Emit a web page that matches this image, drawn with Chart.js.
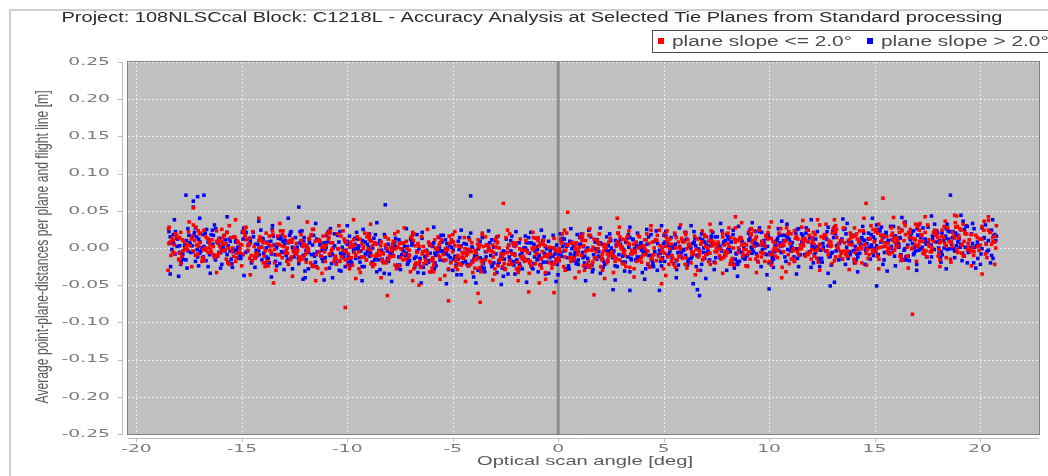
<!DOCTYPE html>
<html>
<head>
<meta charset="utf-8">
<script src="https://cdn.jsdelivr.net/npm/chart.js@4.4.0/dist/chart.umd.min.js"></script>
<style>
  html, body { margin: 0; padding: 0; background: #fff; }
  canvas { display: block; }
</style>
</head>
<body>
<canvas id="scanChart" width="1048" height="476"></canvas>
<script>
const chartTitle = "Project: 108NLSCcal Block: C1218L - Accuracy Analysis at Selected Tie Planes from Standard processing";
const xAxisTitle = "Optical scan angle [deg]";
const yAxisTitle = "Average point-plane-distances per plane and flight line [m]";
const seriesLabels = ["plane slope <= 2.0°", "plane slope > 2.0°"];
const seriesColors = ["#ff0000", "#0000ff"];
const xTicks = [-20, -15, -10, -5, 0, 5, 10, 15, 20];
const yTicks = [0.25, 0.2, 0.15, 0.1, 0.05, 0, -0.05, -0.1, -0.15, -0.2, -0.25];
const yTickLabels = ["0.25", "0.20", "0.15", "0.10", "0.05", "0.00", "-0.05", "-0.10", "-0.15", "-0.20", "-0.25"];

// [scan angle in deg, mean distance in mm]
const lowSlope = [
  [-18.4,8],[-18.2,-7],[-17.9,21],[-17.7,-2],[-18.3,13],[-18.0,-15],[-17.6,5],[-18.1,17],[-17.8,-4],[-18.45,28],[-17.85,-11],[-18.25,10],[-17.65,1],[-17.95,14],[-18.5,-30],[-17.3,54],
  [-16.7,-3],[-17.35,16],[-17.05,2],[-16.8,24],[-17.2,-10],[-16.55,9],[-16.9,-18],[-17.4,12],[-17.0,19],[-16.75,0],[-17.15,4],[-16.6,-6],[-17.3,31],[-16.85,-13],
  [-16.1,12],[-15.65,0],[-16.3,-13],[-15.95,25],[-15.75,6],[-16.45,-6],[-15.85,17],[-15.6,-22],[-16.2,9],[-16.05,2],[-15.7,21],[-16.35,-9],[-15.9,14],[-15.8,-3],
  [-15.4,-11],[-15.2,9],[-14.9,21],[-14.7,-3],[-15.3,-18],[-15.0,4],[-14.6,13],[-15.1,-6],[-14.8,28],[-15.45,0],[-14.85,16],[-15.25,-13],[-14.65,6],[-14.95,-8],
  [-13.7,16],[-14.35,-8],[-14.05,1],[-13.8,-18],[-14.2,10],[-13.55,23],[-13.9,-4],[-14.4,-12],[-14.0,7],[-13.75,-24],[-14.15,13],[-13.6,3],[-14.3,-7],[-13.85,20],[-13.5,-47],[-14.2,40],
  [-13.1,3],[-12.65,-12],[-13.3,16],[-12.95,-7],[-12.75,8],[-13.45,-20],[-12.85,0],[-12.6,12],[-13.2,-9],[-13.05,23],[-12.7,-16],[-13.35,5],[-12.9,-4],[-12.8,9],
  [-12.4,-9],[-12.2,10],[-11.9,-4],[-11.7,18],[-12.3,-16],[-12.0,3],[-11.6,-24],[-12.1,6],[-11.8,13],[-12.45,-6],[-11.85,-2],[-12.25,-12],[-11.65,25],[-11.95,-19],
  [-10.7,7],[-11.35,-5],[-11.05,-18],[-10.8,20],[-11.2,1],[-10.55,-11],[-10.9,12],[-11.4,-27],[-11.0,4],[-10.75,-3],[-11.15,16],[-10.6,-14],[-11.3,9],[-10.85,-8],[-11.5,-44],
  [-10.1,-16],[-9.65,4],[-10.3,16],[-9.95,-8],[-9.75,-23],[-10.45,-1],[-9.85,8],[-9.6,-11],[-10.2,23],[-10.05,-5],[-9.7,11],[-10.35,-18],[-9.9,1],[-9.8,-13],[-10.1,-80],[-9.7,38],
  [-9.4,12],[-9.2,-12],[-8.9,-3],[-8.7,-22],[-9.3,6],[-9.0,19],[-8.6,-8],[-9.1,-16],[-8.8,3],[-9.45,-28],[-8.85,9],[-9.25,-1],[-8.65,-11],[-8.95,16],
  [-7.7,-1],[-8.35,-16],[-8.05,12],[-7.8,-11],[-8.2,4],[-7.55,-24],[-7.9,-4],[-8.4,8],[-8.0,-13],[-7.75,19],[-8.15,-20],[-7.6,1],[-8.3,-8],[-7.85,5],[-8.1,-64],
  [-7.1,-13],[-6.65,6],[-7.3,-8],[-6.95,14],[-6.75,-20],[-7.45,-1],[-6.85,-28],[-6.6,2],[-7.2,9],[-7.05,-10],[-6.7,-6],[-7.35,-16],[-6.9,21],[-6.8,-23],
  [-6.4,2],[-6.2,-10],[-5.9,-23],[-5.7,15],[-6.3,-4],[-6.0,-16],[-5.6,7],[-6.1,-32],[-5.8,-1],[-6.45,-8],[-5.85,11],[-6.25,-19],[-5.65,4],[-5.95,-13],[-6.6,-50],
  [-4.7,-21],[-5.35,-1],[-5.05,11],[-4.8,-13],[-5.2,-28],[-4.55,-6],[-4.9,3],[-5.4,-16],[-5.0,18],[-4.75,-10],[-5.15,6],[-4.6,-23],[-5.3,-4],[-4.85,-18],[-5.2,-71],
  [-4.1,7],[-3.65,-17],[-4.3,-8],[-3.95,-27],[-3.75,1],[-4.45,14],[-3.85,-13],[-3.6,-21],[-4.2,-2],[-4.05,-33],[-3.7,4],[-4.35,-6],[-3.9,-16],[-3.8,11],[-3.8,-61],[-3.7,-73],
  [-3.4,-5],[-3.2,-20],[-2.9,8],[-2.7,-15],[-3.3,0],[-3.0,-28],[-2.6,-8],[-3.1,4],[-2.8,-17],[-3.45,15],[-2.85,-24],[-3.25,-3],[-2.65,-12],[-2.95,1],[-2.6,60],
  [-1.7,-15],[-2.35,4],[-2.05,-10],[-1.8,12],[-2.2,-22],[-1.55,-3],[-1.9,-30],[-2.4,0],[-2.0,7],[-1.75,-12],[-2.15,-8],[-1.6,-18],[-2.3,19],[-1.85,-25],[-1.4,-59],
  [-1.1,1],[-0.65,-11],[-1.3,-24],[-0.95,14],[-0.75,-5],[-1.45,-17],[-0.85,6],[-0.6,-33],[-1.2,-2],[-1.05,-9],[-0.7,10],[-1.35,-20],[-0.9,3],[-0.8,-14],[-0.2,-60],[-0.9,-47],
  [-0.4,-20],[-0.2,0],[0.1,12],[0.3,-12],[-0.3,-27],[0.0,-5],[0.4,4],[-0.1,-15],[0.2,19],[-0.45,-9],[0.15,7],[-0.25,-22],[0.35,-3],[0.05,-17],[0.45,48],
  [1.3,10],[0.65,-14],[0.95,-5],[1.2,-24],[0.8,4],[1.45,17],[1.1,-10],[0.6,-18],[1.0,1],[1.25,-30],[0.85,7],[1.4,-3],[0.7,-13],[1.15,14],
  [1.9,-1],[2.35,-16],[1.7,12],[2.05,-11],[2.25,4],[1.55,-24],[2.15,-4],[2.4,8],[1.8,-13],[1.95,19],[2.3,-20],[1.65,1],[2.1,-8],[2.2,5],[1.7,-63],
  [2.6,-11],[2.8,8],[3.1,-6],[3.3,16],[2.7,-18],[3.0,1],[3.4,-26],[2.9,4],[3.2,11],[2.55,-8],[3.15,-4],[2.75,-14],[3.35,23],[3.05,-21],[2.8,40],
  [4.3,6],[3.65,-6],[3.95,-19],[4.2,19],[3.8,0],[4.45,-12],[4.1,11],[3.6,-28],[4.0,3],[4.25,-4],[3.85,15],[4.4,-15],[3.7,8],[4.15,-9],
  [4.9,-15],[5.35,5],[4.7,17],[5.05,-7],[5.25,-22],[4.55,0],[5.15,9],[5.4,-10],[4.8,24],[4.95,-4],[5.3,12],[4.65,-17],[5.1,2],[5.2,-12],[4.9,-48],
  [5.6,14],[5.8,-10],[6.1,-1],[6.3,-20],[5.7,8],[6.0,21],[6.4,-6],[5.9,-14],[6.2,5],[5.55,-26],[6.15,11],[5.75,1],[6.35,-9],[6.05,18],
  [7.3,3],[6.65,-12],[6.95,16],[7.2,-7],[6.8,8],[7.45,-20],[7.1,0],[6.6,12],[7.0,-9],[7.25,23],[6.85,-16],[7.4,5],[6.7,-4],[7.15,9],
  [7.9,-7],[8.35,12],[7.7,-2],[8.05,20],[8.25,-14],[7.55,5],[8.15,-22],[8.4,8],[7.8,15],[7.95,-4],[8.3,0],[7.65,-10],[8.1,27],[8.2,-17],[8.4,42],
  [8.6,10],[8.8,-2],[9.1,-15],[9.3,23],[8.7,4],[9.0,-8],[9.4,15],[8.9,-24],[9.2,7],[8.55,0],[9.15,19],[8.75,-11],[9.35,12],[9.05,-5],
  [10.3,-11],[9.65,9],[9.95,21],[10.2,-3],[9.8,-18],[10.45,4],[10.1,13],[9.6,-6],[10.0,28],[10.25,0],[9.85,16],[10.4,-13],[9.7,6],[10.15,-8],[10.6,-40],
  [10.9,19],[11.35,-5],[10.7,4],[11.05,-15],[11.25,13],[10.55,26],[11.15,-1],[11.4,-9],[10.8,10],[10.95,-21],[11.3,16],[10.65,6],[11.1,-4],[11.2,23],
  [11.6,8],[11.8,-7],[12.1,21],[12.3,-2],[11.7,13],[12.0,-15],[12.4,5],[11.9,17],[12.2,-4],[11.55,28],[12.15,-11],[11.75,10],[12.35,1],[12.05,14],[12.3,38],
  [13.3,-2],[12.65,17],[12.95,3],[13.2,25],[12.8,-9],[13.45,10],[13.1,-17],[12.6,13],[13.0,20],[13.25,1],[12.85,5],[13.4,-5],[12.7,32],[13.15,-12],
  [13.9,14],[14.35,2],[13.7,-11],[14.05,27],[14.25,8],[13.55,-4],[14.15,19],[14.4,-20],[13.8,11],[13.95,4],[14.3,23],[13.65,-7],[14.1,16],[14.2,-1],[14.6,60],
  [14.6,-7],[14.8,13],[15.1,25],[15.3,1],[14.7,-14],[15.0,8],[15.4,17],[14.9,-2],[15.2,32],[14.55,4],[15.15,20],[14.75,-9],[15.35,10],[15.05,-4],[15.4,67],
  [16.3,23],[15.65,-1],[15.95,8],[16.2,-11],[15.8,17],[16.45,30],[16.1,3],[15.6,-5],[16.0,14],[16.25,-17],[15.85,20],[16.4,10],[15.7,0],[16.15,27],
  [16.9,12],[17.35,-3],[16.7,25],[17.05,2],[17.25,17],[16.55,-11],[17.15,9],[17.4,21],[16.8,0],[16.95,32],[17.3,-7],[16.65,14],[17.1,4],[17.2,18],[16.8,-89],
  [17.6,2],[17.8,21],[18.1,7],[18.3,29],[17.7,-5],[18.0,14],[18.4,-13],[17.9,17],[18.2,24],[17.55,5],[18.15,9],[17.75,-1],[18.35,36],[18.05,-8],[18.8,44],
  [19.3,19],[18.65,7],[18.95,-6],[19.2,32],[18.8,13],[19.45,1],[19.1,24],[18.6,-15],[19.0,16],[19.25,9],[18.85,28],[19.4,-2],[18.7,21],[19.15,4],
  [19.6,-3],[19.8,17],[20.1,29],[20.3,5],[19.7,-10],[20.0,12],[20.5,21],[19.9,2],[20.2,36],[20.7,8],[20.4,24],[19.55,-5],[20.6,14],[20.75,0],[20.1,-35],
  [-18.42,6],[-18.28,-5],[-18.12,17],[-17.98,-16],[-17.82,11],[-17.67,1],[-17.53,22],[-18.36,-10],[-18.2,4],[-18.05,14],[-17.9,-21],[-17.74,9],[-17.6,-2],[-18.48,26],[-17.94,-7],[-18.15,19],
  [-16.56,0],[-16.71,15],[-16.87,-13],[-17.01,7],[-17.17,28],[-17.32,-4],[-17.46,3],[-16.63,13],[-16.79,-17],[-16.96,20],[-17.09,-8],[-17.24,10],[-17.38,-25],[-16.51,5],[-17.07,23],[-16.84,-2],
  [-16.42,11],[-16.28,-12],[-16.12,7],[-15.98,-3],[-15.82,17],[-15.67,-20],[-15.53,14],[-16.36,2],[-16.2,23],[-16.05,-7],[-15.9,5],[-15.74,-15],[-15.6,30],[-16.48,-2],[-15.94,9],[-16.15,-10],
  [-14.56,-10],[-14.71,3],[-14.87,18],[-15.01,-24],[-15.17,7],[-15.32,14],[-15.46,-5],[-14.63,-14],[-14.79,11],[-14.96,23],[-15.09,-1],[-15.24,-7],[-15.38,15],[-14.51,-18],[-15.07,5],[-14.84,27],
  [-14.42,2],[-14.28,-9],[-14.12,13],[-13.98,-20],[-13.82,7],[-13.67,-3],[-13.53,18],[-14.36,-14],[-14.2,0],[-14.05,10],[-13.9,-25],[-13.74,5],[-13.6,-6],[-14.48,22],[-13.94,-11],[-14.15,15],
  [-12.56,-5],[-12.71,10],[-12.87,-18],[-13.01,2],[-13.17,23],[-13.32,-9],[-13.46,-2],[-12.63,8],[-12.79,-22],[-12.96,15],[-13.09,-13],[-13.24,5],[-13.38,-30],[-12.51,0],[-13.07,18],[-12.84,-7],
  [-12.42,6],[-12.28,-17],[-12.12,2],[-11.98,-8],[-11.82,12],[-11.67,-25],[-11.53,9],[-12.36,-3],[-12.2,18],[-12.05,-12],[-11.9,0],[-11.74,-20],[-11.6,25],[-12.48,-7],[-11.94,4],[-12.15,-15],
  [-10.56,-14],[-10.71,-1],[-10.87,14],[-11.01,-28],[-11.17,3],[-11.32,10],[-11.46,-9],[-10.63,-18],[-10.79,7],[-10.96,19],[-11.09,-5],[-11.24,-11],[-11.38,11],[-10.51,-22],[-11.07,1],[-10.84,23],
  [-10.42,-1],[-10.28,-12],[-10.12,10],[-9.98,-23],[-9.82,4],[-9.67,-6],[-9.53,15],[-10.36,-17],[-10.2,-3],[-10.05,7],[-9.9,-28],[-9.74,2],[-9.6,-9],[-10.48,19],[-9.94,-14],[-10.15,12],
  [-8.56,-8],[-8.71,7],[-8.87,-21],[-9.01,-1],[-9.17,20],[-9.32,-12],[-9.46,-5],[-8.63,5],[-8.79,-25],[-8.96,12],[-9.09,-16],[-9.24,2],[-9.38,-33],[-8.51,-3],[-9.07,15],[-8.84,-10],
  [-8.42,3],[-8.28,-20],[-8.12,-1],[-7.98,-11],[-7.82,9],[-7.67,-28],[-7.53,6],[-8.36,-6],[-8.2,15],[-8.05,-15],[-7.9,-3],[-7.74,-23],[-7.6,22],[-8.48,-10],[-7.94,1],[-8.15,-18],
  [-6.56,-18],[-6.71,-5],[-6.87,10],[-7.01,-32],[-7.17,-1],[-7.32,6],[-7.46,-13],[-6.63,-22],[-6.79,3],[-6.96,15],[-7.09,-9],[-7.24,-15],[-7.38,7],[-6.51,-26],[-7.07,-3],[-6.84,19],
  [-6.42,-5],[-6.28,-16],[-6.12,6],[-5.98,-27],[-5.82,0],[-5.67,-10],[-5.53,11],[-6.36,-21],[-6.2,-7],[-6.05,3],[-5.9,-32],[-5.74,-2],[-5.6,-13],[-6.48,15],[-5.94,-18],[-6.15,8],
  [-4.56,-12],[-4.71,3],[-4.87,-25],[-5.01,-5],[-5.17,16],[-5.32,-16],[-5.46,-9],[-4.63,1],[-4.79,-29],[-4.96,8],[-5.09,-20],[-5.24,-2],[-5.38,-37],[-4.51,-7],[-5.07,11],[-4.84,-14],
  [-4.42,-1],[-4.28,-24],[-4.12,-5],[-3.98,-15],[-3.82,5],[-3.67,-32],[-3.53,2],[-4.36,-10],[-4.2,11],[-4.05,-19],[-3.9,-7],[-3.74,-27],[-3.6,18],[-4.48,-14],[-3.94,-3],[-4.15,-22],
  [-2.56,-21],[-2.71,-8],[-2.87,7],[-3.01,-35],[-3.17,-4],[-3.32,3],[-3.46,-16],[-2.63,-25],[-2.79,0],[-2.96,12],[-3.09,-12],[-3.24,-18],[-3.38,4],[-2.51,-29],[-3.07,-6],[-2.84,16],
  [-2.42,-6],[-2.28,-17],[-2.12,5],[-1.98,-28],[-1.82,-1],[-1.67,-11],[-1.53,10],[-2.36,-22],[-2.2,-8],[-2.05,2],[-1.9,-33],[-1.74,-3],[-1.6,-14],[-2.48,14],[-1.94,-19],[-2.15,7],
  [-0.56,-10],[-0.71,5],[-0.87,-23],[-1.01,-7],[-1.17,14],[-1.32,-18],[-1.46,-6],[-0.63,3],[-0.79,-27],[-0.96,10],[-1.09,-21],[-1.24,0],[-1.38,-34],[-0.51,-9],[-1.07,13],[-0.84,-15],
  [-0.42,1],[-0.28,-22],[-0.12,-3],[0.02,-13],[0.18,7],[0.33,-30],[0.47,4],[-0.36,-8],[-0.2,13],[-0.05,-17],[0.1,-5],[0.26,-25],[0.4,20],[-0.48,-12],[0.06,-1],[-0.15,-20],
  [1.44,-18],[1.29,-5],[1.13,10],[0.99,-32],[0.83,-1],[0.68,6],[0.54,-13],[1.37,-22],[1.21,3],[1.04,15],[0.91,-9],[0.76,-15],[0.62,7],[1.49,-26],[0.93,-3],[1.16,19],
  [1.58,-3],[1.72,-14],[1.88,8],[2.02,-25],[2.18,2],[2.33,-8],[2.47,13],[1.64,-19],[1.8,-5],[1.95,5],[2.1,-30],[2.26,0],[2.4,-11],[1.52,17],[2.06,-16],[1.85,10],
  [3.44,-8],[3.29,7],[3.13,-21],[2.99,-1],[2.83,20],[2.68,-12],[2.54,-5],[3.37,5],[3.21,-25],[3.04,12],[2.91,-16],[2.76,2],[2.62,-33],[3.49,-3],[2.93,15],[3.16,-10],
  [3.58,5],[3.72,-18],[3.88,1],[4.02,-9],[4.18,11],[4.33,-26],[4.47,8],[3.64,-4],[3.8,17],[3.95,-13],[4.1,-1],[4.26,-21],[4.4,24],[3.52,-8],[4.06,3],[3.85,-16],
  [5.44,-14],[5.29,-1],[5.13,14],[4.99,-28],[4.83,3],[4.68,10],[4.54,-9],[5.37,-18],[5.21,7],[5.04,19],[4.91,-5],[4.76,-11],[4.62,11],[5.49,-22],[4.93,1],[5.16,23],
  [5.58,0],[5.72,-11],[5.88,11],[6.02,-22],[6.18,5],[6.33,-5],[6.47,16],[5.64,-16],[5.8,-2],[5.95,8],[6.1,-27],[6.26,3],[6.4,-8],[5.52,20],[6.06,-13],[5.85,13],
  [7.44,-5],[7.29,10],[7.13,-18],[6.99,2],[6.83,23],[6.68,-9],[6.54,-2],[7.37,8],[7.21,-22],[7.04,15],[6.91,-13],[6.76,5],[6.62,-30],[7.49,0],[6.93,18],[7.16,-7],
  [7.58,8],[7.72,-15],[7.88,4],[8.02,-6],[8.18,14],[8.33,-23],[8.47,11],[7.64,-1],[7.8,20],[7.95,-10],[8.1,2],[8.26,-18],[8.4,27],[7.52,-5],[8.06,6],[7.85,-13],
  [9.44,-11],[9.29,2],[9.13,17],[8.99,-25],[8.83,6],[8.68,13],[8.54,-6],[9.37,-15],[9.21,10],[9.04,22],[8.91,-2],[8.76,-8],[8.62,14],[9.49,-19],[8.93,4],[9.16,26],
  [9.58,4],[9.72,-7],[9.88,15],[10.02,-18],[10.18,9],[10.33,-1],[10.47,20],[9.64,-12],[9.8,2],[9.95,12],[10.1,-23],[10.26,7],[10.4,-4],[9.52,24],[10.06,-9],[9.85,17],
  [11.44,-1],[11.29,14],[11.13,-14],[10.99,6],[10.83,27],[10.68,-5],[10.54,2],[11.37,12],[11.21,-18],[11.04,19],[10.91,-9],[10.76,9],[10.62,-26],[11.49,4],[10.93,22],[11.16,-3],
  [11.58,12],[11.72,-11],[11.88,8],[12.02,-2],[12.18,18],[12.33,-19],[12.47,15],[11.64,3],[11.8,24],[11.95,-6],[12.1,6],[12.26,-14],[12.4,31],[11.52,-1],[12.06,10],[11.85,-9],
  [13.44,-7],[13.29,6],[13.13,21],[12.99,-21],[12.83,10],[12.68,17],[12.54,-2],[13.37,-11],[13.21,14],[13.04,26],[12.91,2],[12.76,-4],[12.62,18],[13.49,-15],[12.93,8],[13.16,30],
  [13.58,7],[13.72,-4],[13.88,18],[14.02,-15],[14.18,12],[14.33,2],[14.47,23],[13.64,-9],[13.8,5],[13.95,15],[14.1,-20],[14.26,10],[14.4,-1],[13.52,27],[14.06,-6],[13.85,20],
  [15.44,2],[15.29,17],[15.13,-11],[14.99,9],[14.83,30],[14.68,-2],[14.54,5],[15.37,15],[15.21,-15],[15.04,22],[14.91,-6],[14.76,12],[14.62,-23],[15.49,7],[14.93,25],[15.16,0],
  [15.58,15],[15.72,-8],[15.88,11],[16.02,1],[16.18,21],[16.33,-16],[16.47,18],[15.64,6],[15.8,27],[15.95,-3],[16.1,9],[16.26,-11],[16.4,34],[15.52,2],[16.06,13],[15.85,-6],
  [17.44,-4],[17.29,9],[17.13,24],[16.99,-18],[16.83,13],[16.68,20],[16.54,1],[17.37,-8],[17.21,17],[17.04,29],[16.91,5],[16.76,-1],[16.62,21],[17.49,-12],[16.93,11],[17.16,33],
  [17.58,11],[17.72,0],[17.88,22],[18.02,-11],[18.18,16],[18.33,6],[18.47,27],[17.64,-5],[17.8,9],[17.95,19],[18.1,-16],[18.26,14],[18.4,3],[17.52,31],[18.06,-2],[17.85,24],
  [19.44,6],[19.29,21],[19.13,-7],[18.99,13],[18.83,34],[18.68,2],[18.54,9],[19.37,19],[19.21,-11],[19.04,26],[18.91,-2],[18.76,16],[18.62,-19],[19.49,11],[18.93,29],[19.16,4],
  [19.58,18],[19.72,-5],[19.88,14],[20.02,4],[20.18,24],[20.33,-13],[20.47,21],[20.62,9],[20.78,30],[19.65,0],[20.1,12],[20.26,-8],[20.4,37],[20.55,5],[20.7,16],[19.95,-3],
  [-17.5,35],[-16.2,-33],[-15.3,38],[-14.6,-36],[-13.2,33],[-12.6,-38],[-11.9,35],[-11.2,-34],[-10.4,30],[-9.6,-41],[-8.9,32],[-8.4,-40],[-7.3,27],[-6.9,-44],
  [-6.2,25],[-5.6,-42],[-4.9,22],[-4.4,-45],[-3.6,20],[-3.1,-43],[-2.4,24],[-1.9,-44],[-1.2,21],[-0.6,-42],[0.3,24],[0.8,-40],[1.5,26],[2.2,-41],
  [2.9,28],[3.6,-39],[4.4,30],[5.1,-37],[5.8,31],[6.5,-36],[7.2,32],[7.8,-34],[8.7,34],[9.4,-33],[10.1,35],[10.8,-32],[11.6,37],[12.4,-30],
  [13.1,38],[13.8,-29],[14.5,40],[15.2,-28],[15.9,41],[16.6,-27],[17.4,42],[18.1,-25],[18.9,43],[19.6,-24],[20.4,42],[20.7,-22]
];

const highSlope = [
  [-17.8,-8],[-18.4,15],[-17.95,3],[-17.65,-16],[-18.15,22],[-17.55,-4],[-18.3,9],[-17.9,-22],[-18.05,12],[-17.7,0],[-18.25,18],[-17.85,-11],[-18.45,6],[-17.6,-27],
  [-17.65,71],[-17.3,63],[-17.3,55],[-17.1,69],[-16.8,71],[-18.2,38],[-18.4,-35],
  [-17.35,15],[-16.75,-1],[-17.1,-12],[-16.6,8],[-17.2,27],[-17.0,-7],[-16.7,-17],[-17.45,5],[-16.85,18],[-17.3,-5],[-16.55,11],[-17.05,-24],[-16.8,2],[-17.25,21],
  [-15.9,0],[-16.25,-16],[-15.6,12],[-16.4,24],[-15.7,-9],[-16.1,6],[-15.8,-4],[-16.35,17],[-15.95,-22],[-15.55,9],[-16.15,-11],[-15.65,3],[-16.3,31],[-16.0,-6],
  [-14.8,21],[-15.4,-5],[-14.95,-9],[-14.65,13],[-15.15,0],[-14.55,-20],[-15.3,8],[-14.9,27],[-15.05,-14],[-14.7,4],[-15.25,-3],[-14.85,18],[-15.45,-26],[-14.6,10],
  [-14.35,5],[-13.75,-14],[-14.1,24],[-13.6,-8],[-14.2,-3],[-14.0,11],[-13.7,-20],[-14.45,15],[-13.85,0],[-14.3,-11],[-13.55,30],[-14.05,-16],[-13.8,8],[-14.25,-5],
  [-12.9,-10],[-13.25,13],[-12.6,1],[-13.4,-18],[-12.7,20],[-13.1,-6],[-12.8,7],[-13.35,-24],[-12.95,10],[-12.55,-2],[-13.15,16],[-12.65,-13],[-13.3,4],[-13.0,-29],[-12.3,55],[-12.0,-40],
  [-11.8,11],[-12.4,-5],[-11.95,-16],[-11.65,4],[-12.15,23],[-11.55,-11],[-12.3,-21],[-11.9,1],[-12.05,14],[-11.7,-9],[-12.25,7],[-11.85,-28],[-12.45,-2],[-11.6,17],
  [-11.35,-5],[-10.75,-21],[-11.1,7],[-10.6,19],[-11.2,-14],[-11.0,1],[-10.7,-9],[-11.45,12],[-10.85,-27],[-11.3,4],[-10.55,-16],[-11.05,-2],[-10.8,26],[-11.25,-11],[-11.1,-43],
  [-9.9,16],[-10.25,-10],[-9.6,-14],[-10.4,8],[-9.7,-5],[-10.1,-25],[-9.8,3],[-10.35,22],[-9.95,-19],[-9.55,-1],[-10.15,-8],[-9.65,13],[-10.3,-31],[-10.0,5],
  [-8.8,0],[-9.4,-19],[-8.95,19],[-8.65,-13],[-9.15,-8],[-8.55,6],[-9.3,-25],[-8.9,10],[-9.05,-5],[-8.7,-16],[-9.25,25],[-8.85,-21],[-9.45,3],[-8.6,-10],[-8.2,58],
  [-8.35,-15],[-7.75,8],[-8.1,-4],[-7.6,-23],[-8.2,15],[-8.0,-11],[-7.7,2],[-8.45,-29],[-7.85,5],[-8.3,-7],[-7.55,11],[-8.05,-18],[-7.8,-1],[-8.25,-34],
  [-6.9,6],[-7.25,-10],[-6.6,-21],[-7.4,-1],[-6.7,18],[-7.1,-16],[-6.8,-26],[-7.35,-4],[-6.95,9],[-6.55,-14],[-7.15,2],[-6.65,-33],[-7.3,-7],[-7.0,12],
  [-5.8,-10],[-6.4,-26],[-5.95,2],[-5.65,14],[-6.15,-19],[-5.55,-4],[-6.3,-14],[-5.9,7],[-6.05,-32],[-5.7,-1],[-6.25,-21],[-5.85,-7],[-6.45,21],[-5.6,-16],
  [-5.35,11],[-4.75,-15],[-5.1,-19],[-4.6,3],[-5.2,-10],[-5.0,-30],[-4.7,-2],[-5.45,17],[-4.85,-24],[-5.3,-6],[-4.55,-13],[-5.05,8],[-4.8,-36],[-5.25,0],
  [-3.9,-5],[-4.25,-24],[-3.6,14],[-4.4,-18],[-3.7,-13],[-4.1,1],[-3.8,-30],[-4.35,5],[-3.95,-10],[-3.55,-21],[-4.15,20],[-3.65,-26],[-4.3,-2],[-4.0,-15],[-4.15,70],
  [-2.8,-19],[-3.4,4],[-2.95,-8],[-2.65,-27],[-3.15,11],[-2.55,-15],[-3.3,-2],[-2.9,-33],[-3.05,1],[-2.7,-11],[-3.25,7],[-2.85,-22],[-3.45,-5],[-2.6,-38],
  [-2.35,4],[-1.75,-12],[-2.1,-23],[-1.6,-3],[-2.2,16],[-2.0,-18],[-1.7,-28],[-2.45,-6],[-1.85,7],[-2.3,-16],[-1.55,0],[-2.05,-35],[-1.8,-9],[-2.25,10],
  [-0.9,-10],[-1.25,-26],[-0.6,2],[-1.4,14],[-0.7,-19],[-1.1,-4],[-0.8,-14],[-1.35,7],[-0.95,-32],[-0.55,-1],[-1.15,-21],[-0.65,-7],[-1.3,21],[-1.0,-16],
  [0.2,13],[-0.4,-13],[0.05,-17],[0.35,5],[-0.15,-8],[0.45,-28],[-0.3,0],[0.1,19],[-0.05,-22],[0.3,-4],[-0.25,-11],[0.15,10],[-0.45,-34],[0.4,2],
  [0.65,-1],[1.25,-20],[0.9,18],[1.4,-14],[0.8,-9],[1.0,5],[1.3,-26],[0.55,9],[1.15,-6],[0.7,-17],[1.45,24],[0.95,-22],[1.2,2],[0.75,-11],
  [2.1,-15],[1.75,8],[2.4,-4],[1.6,-23],[2.3,15],[1.9,-11],[2.2,2],[1.65,-29],[2.05,5],[2.45,-7],[1.85,11],[2.35,-18],[1.7,-1],[2.0,-34],
  [3.2,8],[2.6,-8],[3.05,-19],[3.35,1],[2.85,20],[3.45,-14],[2.7,-24],[3.1,-2],[2.95,11],[3.3,-12],[2.75,4],[3.15,-31],[2.55,-5],[3.4,14],[2.6,-56],[3.4,-57],
  [3.65,-6],[4.25,-22],[3.9,6],[4.4,18],[3.8,-15],[4.0,0],[4.3,-10],[3.55,11],[4.15,-28],[3.7,3],[4.45,-17],[3.95,-3],[4.2,25],[3.75,-12],[4.8,-57],
  [5.1,17],[4.75,-9],[5.4,-13],[4.6,9],[5.3,-4],[4.9,-24],[5.2,4],[4.65,23],[5.05,-18],[5.45,0],[4.85,-7],[5.35,14],[4.7,-30],[5.0,6],
  [6.2,2],[5.6,-17],[6.05,21],[6.35,-11],[5.85,-6],[6.45,8],[5.7,-23],[6.1,12],[5.95,-3],[6.3,-14],[5.75,27],[6.15,-19],[5.55,5],[6.4,-8],[6.6,-56],[6.7,-64],[6.4,-48],
  [6.65,-11],[7.25,12],[6.9,0],[7.4,-19],[6.8,19],[7.0,-7],[7.3,6],[6.55,-25],[7.15,9],[6.7,-3],[7.45,15],[6.95,-14],[7.2,3],[6.75,-30],
  [8.1,12],[7.75,-4],[8.4,-15],[7.6,5],[8.3,24],[7.9,-10],[8.2,-20],[7.65,2],[8.05,15],[8.45,-8],[7.85,8],[8.35,-27],[7.7,-1],[8.0,18],
  [9.2,-2],[8.6,-18],[9.05,10],[9.35,22],[8.85,-11],[9.45,4],[8.7,-6],[9.1,15],[8.95,-24],[9.3,7],[8.75,-13],[9.15,1],[8.55,29],[9.4,-8],
  [9.65,21],[10.25,-5],[9.9,-9],[10.4,13],[9.8,0],[10.0,-20],[10.3,8],[9.55,27],[10.15,-14],[9.7,4],[10.45,-3],[9.95,18],[10.2,-26],[9.75,10],[10.0,-55],
  [11.1,7],[10.75,-12],[11.4,26],[10.6,-6],[11.3,-1],[10.9,13],[11.2,-18],[10.65,17],[11.05,2],[11.45,-9],[10.85,32],[11.35,-14],[10.7,10],[11.0,-3],
  [12.2,-6],[11.6,17],[12.05,5],[12.35,-14],[11.85,24],[12.45,-2],[11.7,11],[12.1,-20],[11.95,14],[12.3,2],[11.75,20],[12.15,-9],[11.55,8],[12.4,-25],
  [12.65,16],[13.25,0],[12.9,-11],[13.4,9],[12.8,28],[13.0,-6],[13.3,-16],[12.55,6],[13.15,19],[12.7,-4],[13.45,12],[12.95,-23],[13.2,3],[12.75,22],[12.9,-51],[13.1,-46],
  [14.1,2],[13.75,-14],[14.4,14],[13.6,26],[14.3,-7],[13.9,8],[14.2,-2],[13.65,19],[14.05,-20],[14.45,11],[13.85,-9],[14.35,5],[13.7,33],[14.0,-4],
  [15.2,25],[14.6,-1],[15.05,-5],[15.35,17],[14.85,4],[15.45,-16],[14.7,12],[15.1,31],[14.95,-10],[15.3,8],[14.75,1],[15.15,22],[14.55,-22],[15.4,14],[15.1,-51],
  [15.65,10],[16.25,-9],[15.9,29],[16.4,-3],[15.8,2],[16.0,16],[16.3,-15],[15.55,20],[16.15,5],[15.7,-6],[16.45,35],[15.95,-11],[16.2,13],[15.75,0],
  [17.1,-3],[16.75,20],[17.4,8],[16.6,-11],[17.3,27],[16.9,1],[17.2,14],[16.65,-17],[17.05,17],[17.45,5],[16.85,23],[17.35,-6],[16.7,11],[17.0,-22],
  [18.2,20],[17.6,4],[18.05,-7],[18.35,13],[17.85,32],[18.45,-2],[17.7,-12],[18.1,10],[17.95,23],[18.3,0],[17.75,16],[18.15,-19],[17.55,7],[18.4,26],[18.6,71],
  [18.65,5],[19.25,-11],[18.9,17],[19.4,29],[18.8,-4],[19.0,11],[19.3,1],[18.55,22],[19.15,-17],[18.7,14],[19.45,-6],[18.95,8],[19.2,36],[18.75,-1],
  [20.1,27],[19.75,1],[20.4,-3],[19.6,19],[20.3,6],[19.9,-14],[20.2,14],[19.65,33],[20.05,-8],[20.75,10],[19.85,3],[20.55,24],[19.7,-20],[20.65,16],[20.5,-20],
  [-17.56,26],[-17.71,4],[-17.87,-19],[-18.01,14],[-18.17,-8],[-18.32,-2],[-18.46,22],[-17.63,10],[-17.79,-15],[-17.96,-6],[-18.09,13],[-18.24,6],[-18.38,-25],[-17.51,17],[-18.07,2],[-17.84,-11],
  [-17.42,-6],[-17.28,17],[-17.12,-2],[-16.98,8],[-16.82,-12],[-16.67,25],[-16.53,-9],[-17.36,3],[-17.2,-18],[-17.05,12],[-16.9,0],[-16.74,20],[-16.6,-25],[-17.48,7],[-16.94,-4],[-17.15,15],
  [-15.56,-4],[-15.71,21],[-15.87,3],[-16.01,-27],[-16.17,8],[-16.32,-10],[-16.46,18],[-15.63,-19],[-15.79,11],[-15.96,1],[-16.09,-6],[-16.24,26],[-16.38,5],[-15.51,-15],[-16.07,13],[-15.84,-2],
  [-15.42,-1],[-15.28,10],[-15.12,-12],[-14.98,21],[-14.82,-6],[-14.67,4],[-14.53,-17],[-15.36,15],[-15.2,1],[-15.05,-9],[-14.9,26],[-14.74,-4],[-14.6,7],[-15.48,-21],[-14.94,12],[-15.15,-14],
  [-13.56,25],[-13.71,3],[-13.87,-20],[-14.01,13],[-14.17,-9],[-14.32,-3],[-14.46,21],[-13.63,9],[-13.79,-16],[-13.96,-7],[-14.09,12],[-14.24,5],[-14.38,-26],[-13.51,16],[-14.07,1],[-13.84,-12],
  [-13.42,-9],[-13.28,14],[-13.12,-5],[-12.98,5],[-12.82,-15],[-12.67,22],[-12.53,-12],[-13.36,0],[-13.2,-21],[-13.05,9],[-12.9,-3],[-12.74,17],[-12.6,-28],[-13.48,4],[-12.94,-7],[-13.15,12],
  [-11.56,-8],[-11.71,17],[-11.87,-1],[-12.01,-31],[-12.17,4],[-12.32,-14],[-12.46,14],[-11.63,-23],[-11.79,7],[-11.96,-3],[-12.09,-10],[-12.24,22],[-12.38,1],[-11.51,-19],[-12.07,9],[-11.84,-6],
  [-11.42,-5],[-11.28,6],[-11.12,-16],[-10.98,17],[-10.82,-10],[-10.67,0],[-10.53,-21],[-11.36,11],[-11.2,-3],[-11.05,-13],[-10.9,22],[-10.74,-8],[-10.6,3],[-11.48,-25],[-10.94,8],[-11.15,-18],
  [-9.56,21],[-9.71,-1],[-9.87,-24],[-10.01,9],[-10.17,-13],[-10.32,-7],[-10.46,17],[-9.63,5],[-9.79,-20],[-9.96,-11],[-10.09,8],[-10.24,1],[-10.38,-30],[-9.51,12],[-10.07,-3],[-9.84,-16],
  [-9.42,-13],[-9.28,10],[-9.12,-9],[-8.98,1],[-8.82,-19],[-8.67,18],[-8.53,-16],[-9.36,-4],[-9.2,-25],[-9.05,5],[-8.9,-7],[-8.74,13],[-8.6,-32],[-9.48,0],[-8.94,-11],[-9.15,8],
  [-7.56,-12],[-7.71,13],[-7.87,-5],[-8.01,-35],[-8.17,0],[-8.32,-18],[-8.46,10],[-7.63,-27],[-7.79,3],[-7.96,-7],[-8.09,-14],[-8.24,18],[-8.38,-3],[-7.51,-23],[-8.07,5],[-7.84,-10],
  [-7.42,-9],[-7.28,2],[-7.12,-20],[-6.98,13],[-6.82,-14],[-6.67,-4],[-6.53,-25],[-7.36,7],[-7.2,-7],[-7.05,-17],[-6.9,18],[-6.74,-12],[-6.6,-1],[-7.48,-29],[-6.94,4],[-7.15,-22],
  [-5.56,17],[-5.71,-5],[-5.87,-28],[-6.01,5],[-6.17,-17],[-6.32,-11],[-6.46,13],[-5.63,1],[-5.79,-24],[-5.96,-15],[-6.09,4],[-6.24,-3],[-6.38,-34],[-5.51,8],[-6.07,-7],[-5.84,-20],
  [-5.42,-17],[-5.28,6],[-5.12,-13],[-4.98,-3],[-4.82,-23],[-4.67,14],[-4.53,-20],[-5.36,-8],[-5.2,-29],[-5.05,1],[-4.9,-11],[-4.74,9],[-4.6,-36],[-5.48,-4],[-4.94,-15],[-5.15,4],
  [-3.56,-16],[-3.71,9],[-3.87,-9],[-4.01,-39],[-4.17,-4],[-4.32,-22],[-4.46,6],[-3.63,-31],[-3.79,-1],[-3.96,-11],[-4.09,-18],[-4.24,14],[-4.38,-7],[-3.51,-27],[-4.07,1],[-3.84,-14],
  [-3.42,-12],[-3.28,-1],[-3.12,-23],[-2.98,10],[-2.82,-17],[-2.67,-7],[-2.53,-28],[-3.36,4],[-3.2,-10],[-3.05,-20],[-2.9,15],[-2.74,-15],[-2.6,-4],[-3.48,-32],[-2.94,1],[-3.15,-25],
  [-1.56,16],[-1.71,-6],[-1.87,-29],[-2.01,4],[-2.17,-18],[-2.32,-12],[-2.46,12],[-1.63,0],[-1.79,-25],[-1.96,-16],[-2.09,3],[-2.24,-4],[-2.38,-35],[-1.51,7],[-2.07,-8],[-1.84,-21],
  [-1.42,-16],[-1.28,7],[-1.12,-12],[-0.98,-2],[-0.82,-22],[-0.67,15],[-0.53,-19],[-1.36,-7],[-1.2,-28],[-1.05,2],[-0.9,-10],[-0.74,10],[-0.6,-35],[-1.48,-3],[-0.94,-14],[-1.15,5],
  [0.44,-13],[0.29,12],[0.13,-6],[-0.01,-36],[-0.17,-1],[-0.32,-19],[-0.46,9],[0.37,-28],[0.21,2],[0.04,-8],[-0.09,-15],[-0.24,17],[-0.38,-4],[0.49,-24],[-0.07,4],[0.16,-11],
  [0.58,-8],[0.72,3],[0.88,-19],[1.02,14],[1.18,-13],[1.33,-3],[1.47,-24],[0.64,8],[0.8,-6],[0.95,-16],[1.1,19],[1.26,-11],[1.4,0],[0.52,-28],[1.06,5],[0.85,-21],
  [2.44,19],[2.29,-3],[2.13,-26],[1.99,7],[1.83,-15],[1.68,-9],[1.54,15],[2.37,3],[2.21,-22],[2.04,-13],[1.91,6],[1.76,-1],[1.62,-32],[2.49,10],[1.93,-5],[2.16,-18],
  [2.58,-13],[2.72,10],[2.88,-9],[3.02,1],[3.18,-19],[3.33,18],[3.47,-16],[2.64,-4],[2.8,-25],[2.95,5],[3.1,-7],[3.26,13],[3.4,-32],[2.52,0],[3.06,-11],[2.85,8],
  [4.44,-10],[4.29,15],[4.13,-3],[3.99,-33],[3.83,2],[3.68,-16],[3.54,12],[4.37,-25],[4.21,5],[4.04,-5],[3.91,-12],[3.76,20],[3.62,-1],[4.49,-21],[3.93,7],[4.16,-8],
  [4.58,-5],[4.72,6],[4.88,-16],[5.02,17],[5.18,-10],[5.33,0],[5.47,-21],[4.64,11],[4.8,-3],[4.95,-13],[5.1,22],[5.26,-8],[5.4,3],[4.52,-25],[5.06,8],[4.85,-18],
  [6.44,22],[6.29,0],[6.13,-23],[5.99,10],[5.83,-12],[5.68,-6],[5.54,18],[6.37,6],[6.21,-19],[6.04,-10],[5.91,9],[5.76,2],[5.62,-29],[6.49,13],[5.93,-2],[6.16,-15],
  [6.58,-10],[6.72,13],[6.88,-6],[7.02,4],[7.18,-16],[7.33,21],[7.47,-13],[6.64,-1],[6.8,-22],[6.95,8],[7.1,-4],[7.26,16],[7.4,-29],[6.52,3],[7.06,-8],[6.85,11],
  [8.44,-7],[8.29,18],[8.13,0],[7.99,-30],[7.83,5],[7.68,-13],[7.54,15],[8.37,-22],[8.21,8],[8.04,-2],[7.91,-9],[7.76,23],[7.62,2],[8.49,-18],[7.93,10],[8.16,-5],
  [8.58,-2],[8.72,9],[8.88,-13],[9.02,20],[9.18,-7],[9.33,3],[9.47,-18],[8.64,14],[8.8,0],[8.95,-10],[9.1,25],[9.26,-5],[9.4,6],[8.52,-22],[9.06,11],[8.85,-15],
  [10.44,26],[10.29,4],[10.13,-19],[9.99,14],[9.83,-8],[9.68,-2],[9.54,22],[10.37,10],[10.21,-15],[10.04,-6],[9.91,13],[9.76,6],[9.62,-25],[10.49,17],[9.93,2],[10.16,-11],
  [10.58,-6],[10.72,17],[10.88,-2],[11.02,8],[11.18,-12],[11.33,25],[11.47,-9],[10.64,3],[10.8,-18],[10.95,12],[11.1,0],[11.26,20],[11.4,-25],[10.52,7],[11.06,-4],[10.85,15],
  [12.44,-3],[12.29,22],[12.13,4],[11.99,-26],[11.83,9],[11.68,-9],[11.54,19],[12.37,-18],[12.21,12],[12.04,2],[11.91,-5],[11.76,27],[11.62,6],[12.49,-14],[11.93,14],[12.16,-1],
  [12.58,1],[12.72,12],[12.88,-10],[13.02,23],[13.18,-4],[13.33,6],[13.47,-15],[12.64,17],[12.8,3],[12.95,-7],[13.1,28],[13.26,-2],[13.4,9],[12.52,-19],[13.06,14],[12.85,-12],
  [14.44,29],[14.29,7],[14.13,-16],[13.99,17],[13.83,-5],[13.68,1],[13.54,25],[14.37,13],[14.21,-12],[14.04,-3],[13.91,16],[13.76,9],[13.62,-22],[14.49,20],[13.93,5],[14.16,-8],
  [14.58,-3],[14.72,20],[14.88,1],[15.02,11],[15.18,-9],[15.33,28],[15.47,-6],[14.64,6],[14.8,-15],[14.95,15],[15.1,3],[15.26,23],[15.4,-22],[14.52,10],[15.06,-1],[14.85,18],
  [16.44,-1],[16.29,24],[16.13,6],[15.99,-24],[15.83,11],[15.68,-7],[15.54,21],[16.37,-16],[16.21,14],[16.04,4],[15.91,-3],[15.76,29],[15.62,8],[16.49,-12],[15.93,16],[16.16,1],
  [16.58,4],[16.72,15],[16.88,-7],[17.02,26],[17.18,-1],[17.33,9],[17.47,-12],[16.64,20],[16.8,6],[16.95,-4],[17.1,31],[17.26,1],[17.4,12],[16.52,-16],[17.06,17],[16.85,-9],
  [18.44,32],[18.29,10],[18.13,-13],[17.99,20],[17.83,-2],[17.68,4],[17.54,28],[18.37,16],[18.21,-9],[18.04,0],[17.91,19],[17.76,12],[17.62,-19],[18.49,23],[17.93,8],[18.16,-5],
  [18.58,-1],[18.72,22],[18.88,3],[19.02,13],[19.18,-7],[19.33,30],[19.47,-4],[18.64,8],[18.8,-13],[18.95,17],[19.1,5],[19.26,25],[19.4,-20],[18.52,12],[19.06,1],[18.85,20],
  [19.58,1],[19.72,26],[19.88,8],[20.02,-22],[20.18,13],[20.33,-5],[20.47,23],[20.62,-14],[20.78,16],[19.65,6],[20.1,-1],[20.26,31],[20.4,10],[20.55,-10],[20.7,18],[19.95,3],
  [-18.0,-38],[-17.0,40],[-16.5,-34],[-15.7,42],[-14.9,-37],[-14.2,36],[-13.6,-39],[-12.8,40],[-12.1,-42],[-11.5,33],[-10.7,-40],[-10.0,30],[-9.3,-44],[-8.6,34],
  [-7.9,-45],[-7.2,26],[-6.5,-47],[-5.9,28],[-5.3,-48],[-4.6,24],[-3.9,-47],[-3.3,23],[-2.7,-49],[-2.0,22],[-1.5,-46],[-0.8,24],[-0.1,-45],[0.6,26],
  [1.3,-44],[2.0,27],[2.7,-43],[3.4,28],[4.1,-42],[4.9,30],[5.6,-40],[6.3,30],[7.0,-41],[7.7,33],[8.5,-38],[9.2,34],[9.9,-36],[10.6,36],
  [11.3,-35],[12.0,38],[12.8,-34],[13.5,39],[14.2,-32],[14.9,40],[15.6,-31],[16.3,41],[17.0,-30],[17.7,43],[18.4,-28],[19.1,44],[19.8,-27],[20.6,38]
];

const toPoints = rows => rows.map(([angle, mm]) => ({ x: angle, y: mm / 1000 }));

const SANS = '"Liberation Sans", Arial, sans-serif';

// text in this chart is drawn wide, so stretch it horizontally
function stretchText(ctx, text, x, y, sx, align) {
  ctx.save();
  ctx.translate(x, y);
  ctx.scale(sx, 1);
  ctx.textAlign = align;
  ctx.fillText(text, 0, 0);
  ctx.restore();
}

const plotFrame = {
  id: 'plotFrame',
  beforeDraw(chart) {
    const { ctx, chartArea: a } = chart;
    const xs = chart.scales.x, ys = chart.scales.y;
    ctx.save();
    ctx.fillStyle = '#ffffff';
    ctx.fillRect(0, 0, chart.width, chart.height);

    // outer panel edge
    ctx.strokeStyle = '#cfcfcf';
    ctx.lineWidth = 2;
    ctx.strokeRect(10, 10, chart.width + 20, chart.height + 20);

    ctx.fillStyle = '#c0c0c0';
    ctx.fillRect(a.left, a.top, a.right - a.left, a.bottom - a.top);

    // dotted white grid
    ctx.strokeStyle = 'rgba(255,255,255,0.7)';
    ctx.lineWidth = 1;
    ctx.setLineDash([2, 2]);
    ctx.beginPath();
    xTicks.forEach(v => {
      const px = Math.round(xs.getPixelForValue(v)) + 0.5;
      ctx.moveTo(px, a.top);
      ctx.lineTo(px, a.bottom);
    });
    yTicks.forEach(v => {
      const py = Math.round(ys.getPixelForValue(v)) + 0.5;
      ctx.moveTo(a.left, py);
      ctx.lineTo(a.right, py);
    });
    ctx.stroke();
    ctx.setLineDash([]);

    // zero scan angle marker
    const x0 = xs.getPixelForValue(0);
    ctx.strokeStyle = '#8d8d8d';
    ctx.lineWidth = 3;
    ctx.beginPath();
    ctx.moveTo(x0, a.top);
    ctx.lineTo(x0, a.bottom);
    ctx.stroke();
    ctx.restore();
  },
  afterDraw(chart) {
    const { ctx, chartArea: a } = chart;
    const xs = chart.scales.x, ys = chart.scales.y;
    ctx.save();

    ctx.strokeStyle = '#808080';
    ctx.lineWidth = 1;
    ctx.strokeRect(a.left - 0.5, a.top - 0.5, a.right - a.left + 1, a.bottom - a.top + 1);

    // axis lines and tick marks, set off from the plot
    ctx.strokeStyle = '#bdbdbd';
    ctx.beginPath();
    ctx.moveTo(122.5, a.top);
    ctx.lineTo(122.5, a.bottom);
    ctx.moveTo(a.left, 438.5);
    ctx.lineTo(a.right, 438.5);
    yTicks.forEach(v => {
      const py = Math.round(ys.getPixelForValue(v)) + 0.5;
      ctx.moveTo(118, py);
      ctx.lineTo(123, py);
    });
    xTicks.forEach(v => {
      const px = Math.round(xs.getPixelForValue(v)) + 0.5;
      ctx.moveTo(px, 438);
      ctx.lineTo(px, 442);
    });
    ctx.stroke();

    // tick labels
    ctx.fillStyle = '#7c7c7c';
    ctx.font = '11px "DejaVu Sans", sans-serif';
    ctx.textBaseline = 'middle';
    yTicks.forEach((v, i) => {
      stretchText(ctx, yTickLabels[i], 110, ys.getPixelForValue(v), 1.7, 'right');
    });
    xTicks.forEach(v => {
      stretchText(ctx, String(v), xs.getPixelForValue(v), 449, 1.7, 'center');
    });

    // axis titles
    ctx.fillStyle = '#5a5a5a';
    ctx.font = '13px ' + SANS;
    let w = ctx.measureText(xAxisTitle).width;
    stretchText(ctx, xAxisTitle, 585, 461, 216 / w, 'center');

    w = ctx.measureText(yAxisTitle).width;
    ctx.save();
    ctx.translate(43, 247);
    ctx.rotate(-Math.PI / 2);
    ctx.scale(313 / w, 1.35);
    ctx.textAlign = 'center';
    ctx.fillText(yAxisTitle, 0, 0);
    ctx.restore();

    // title
    ctx.fillStyle = '#2b2b2b';
    ctx.font = '14px ' + SANS;
    w = ctx.measureText(chartTitle).width;
    stretchText(ctx, chartTitle, 532, 18, 941 / w, 'center');

    // legend
    ctx.strokeStyle = '#4a4a4a';
    ctx.lineWidth = 1;
    ctx.strokeRect(652.5, 30.5, 440, 22);
    ctx.font = '14px ' + SANS;
    const sx = 180 / ctx.measureText(seriesLabels[0]).width;
    const legendX = [658, 867];
    seriesLabels.forEach((label, i) => {
      ctx.fillStyle = seriesColors[i];
      ctx.fillRect(legendX[i], 38, 6, 6);
      ctx.fillStyle = '#4a4a4a';
      stretchText(ctx, label, legendX[i] + 14, 42, sx, 'left');
    });
    ctx.restore();
  }
};

new Chart(document.getElementById('scanChart'), {
  type: 'scatter',
  data: {
    datasets: [
      {
        label: seriesLabels[0],
        data: toPoints(lowSlope),
        backgroundColor: seriesColors[0],
        pointStyle: 'rect',
        pointRadius: 2.5,
        borderWidth: 0
      },
      {
        label: seriesLabels[1],
        data: toPoints(highSlope),
        backgroundColor: seriesColors[1],
        pointStyle: 'rect',
        pointRadius: 2.5,
        borderWidth: 0
      }
    ]
  },
  options: {
    responsive: false,
    devicePixelRatio: 1,
    animation: false,
    events: [],
    layout: { padding: { left: 128, top: 62, right: 9, bottom: 42 } },
    plugins: {
      legend: { display: false },
      title: { display: false },
      tooltip: { enabled: false }
    },
    scales: {
      x: { type: 'linear', min: -20.4, max: 22.8, display: false },
      y: { type: 'linear', min: -0.25, max: 0.25, display: false }
    }
  },
  plugins: [plotFrame]
});
</script>
</body>
</html>
